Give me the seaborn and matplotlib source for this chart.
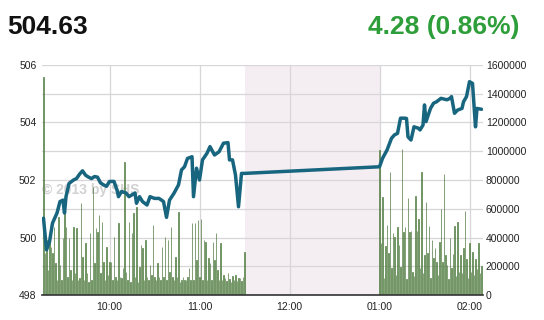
import matplotlib
matplotlib.use("Agg")
import matplotlib.pyplot as plt
import seaborn as sns
import numpy as np
import pandas as pd

# ---------------- data ----------------
price_times = ["09:16", "09:18", "09:20", "09:22", "09:25", "09:27", "09:29", "09:30", "09:31", "09:33",
               "09:36", "09:38", "09:40", "09:42", "09:44", "09:46", "09:48", "09:50", "09:52", "09:54",
               "09:56", "09:58", "10:00", "10:03", "10:05", "10:06", "10:08", "10:11", "10:13", "10:17",
               "10:18", "10:20", "10:22", "10:25", "10:27", "10:30", "10:33", "10:36", "10:38", "10:40",
               "10:43", "10:46", "10:48", "10:50", "10:52", "10:55", "10:56", "10:58", "11:00", "11:02",
               "11:05", "11:07", "11:10", "11:13", "11:16", "11:19", "11:20", "11:22", "11:24", "11:26",
               "11:28", "11:30",
               "13:00", "13:02", "13:05", "13:08", "13:10", "13:12", "13:14", "13:17", "13:18", "13:19",
               "13:21", "13:23", "13:26", "13:27", "13:29", "13:30", "13:31", "13:34", "13:36", "13:38",
               "13:41", "13:45", "13:47", "13:48", "13:50", "13:52", "13:55", "13:56", "13:58", "14:00",
               "14:02", "14:04", "14:05", "14:08"]
price_values = [500.67, 499.57, 499.85, 500.50, 500.85, 501.25, 501.30, 500.85, 501.42, 501.88,
                502.00, 502.05, 502.20, 502.32, 502.17, 502.10, 502.05, 502.12, 502.10, 501.90,
                501.83, 501.78, 501.95, 501.95, 501.65, 501.42, 501.60, 501.55, 501.42, 501.55,
                501.19, 501.42, 501.25, 501.13, 501.42, 501.36, 501.36, 501.25, 500.70, 501.30,
                501.54, 501.83, 502.35, 502.46, 502.75, 502.81, 501.42, 502.41, 502.00, 502.70,
                502.93, 503.16, 502.87, 502.98, 503.28, 503.30, 502.70, 502.70, 502.17, 501.07,
                502.23, 502.23,
                502.46, 502.75, 503.04, 503.45, 503.57, 503.62, 504.15, 504.15, 504.14, 503.50,
                503.39, 503.85, 503.80, 503.74, 503.91, 504.61, 504.03, 504.49, 504.67, 504.72,
                504.84, 504.79, 504.84, 504.90, 504.32, 504.43, 504.49, 504.72, 504.90, 505.42,
                505.36, 503.85, 504.49, 504.46]

# volume per minute (thousands), morning session starting 09:16, afternoon starting 13:00
vol_am_start = "09:16"
vol_am = [1519, 290, 383, 174, 429, 336, 290, 475, 220, 104, 545, 209, 104, 394, 614, 475, 127, 394,
          174, 104, 475, 151, 464, 104, 116, 638, 267, 104, 360, 151, 93, 429, 104, 754, 220, 464,
          441, 557, 151, 510, 232, 104, 336, 139, 232, 232, 104, 406, 127, 104, 499, 127, 116, 186,
          927, 162, 104, 510, 93, 429, 568, 127, 614, 93, 197, 348, 325, 104, 383, 127, 104, 209,
          139, 487, 127, 104, 220, 127, 104, 336, 127, 406, 104, 383, 162, 475, 127, 104, 267, 127,
          580, 93, 104, 127, 104, 104, 127, 186, 104, 503, 104, 499, 244, 522, 127, 526, 104, 383,
          371, 104, 255, 220, 104, 371, 244, 429, 174, 104, 360, 104, 139, 118, 96, 150, 110, 92,
          130, 105, 140, 98, 120, 115, 100, 125, 300]
vol_pm_start = "13:00"
vol_pm = [1009, 360, 684, 120, 341, 487, 290, 858, 186, 429, 406, 140, 475, 348, 195, 1013, 440,
          471, 110, 672, 440, 445, 162, 130, 689, 445, 529, 186, 858, 150, 278, 649, 290, 480, 120,
          383, 255, 329, 232, 140, 371, 598, 232, 842, 278, 209, 110, 394, 190, 286, 480, 130, 506,
          162, 278, 150, 330, 587, 250, 120, 364, 160, 300, 140, 250, 180, 364, 150, 200]

ytick_price = [498, 500, 502, 504, 506]
xtick_times = ["10:00", "11:00", "12:00", "13:00", "14:00"]
xtick_labels = ["10:00", "11:00", "12:00", "01:00", "02:00"]
header_value = "504.63"
header_change = "4.28 (0.86%)"
watermark = "\u00a9 2013 by SHS"
break_span = ("11:30", "13:00")
x_range = ("09:15", "14:09")


def to_min(s):
    h, m = s.split(":")
    return int(h) * 60 + int(m)


price_df = pd.DataFrame({"t": [to_min(t) for t in price_times], "price": price_values})
am0, pm0 = to_min(vol_am_start), to_min(vol_pm_start)
vol_df = pd.DataFrame({
    "t": [am0 + i for i in range(len(vol_am))] + [pm0 + i for i in range(len(vol_pm))],
    "vol": [v * 1000 for v in vol_am + vol_pm],
})

# ---------------- drawing ----------------
sns.set_style("white")
plt.rcParams["font.family"] = ["Liberation Sans", "DejaVu Sans"]

fig = plt.figure(figsize=(5.44, 3.2), dpi=100)
W, H = 544, 320
ax = fig.add_axes([42 / W, 25 / H, 441 / W, 230 / H])

# lunch break shading
ax.axvspan(to_min(break_span[0]), to_min(break_span[1]), color="#f4eef2", zorder=0, lw=0)

# volume bars
sns.histplot(data=vol_df, x="t", weights="vol", discrete=True, shrink=0.55, ax=ax,
             facecolor="#a5c095", edgecolor="#3e6c2d", linewidth=0.45, alpha=1, zorder=2)

ax2 = ax.twinx()

ax.set_xlim(to_min(x_range[0]), to_min(x_range[1]))
ax.set_ylim(0, 1600000)
ax.set_yticks(np.arange(0, 1600001, 200000))
ax.set_yticklabels([f"{int(v)}" for v in np.arange(0, 1600001, 200000)])
ax.set_xticks([to_min(t) for t in xtick_times])
ax.set_xticklabels(xtick_labels)
ax.set_xlabel("")
ax.set_ylabel("")
ax.grid(True, color="#d9d6d9", lw=0.9, zorder=1)
ax.set_axisbelow(True)
for s in ["left", "right", "top"]:
    ax.spines[s].set_visible(False)
ax.spines["bottom"].set_color("#333333")
ax.spines["bottom"].set_linewidth(1.2)
ax.tick_params(axis="both", length=0, labelsize=7.5, colors="#222222", pad=3)
ax.tick_params(axis="x", pad=5)
ax.yaxis.tick_right()
ax.tick_params(axis="y", length=0, pad=2)

ax.text(0.0, 0.457, watermark, transform=ax.transAxes, fontsize=10, fontweight="bold",
        color="#d2d2d2", va="center", ha="left", zorder=1.5)

# price line
sns.lineplot(data=price_df, x="t", y="price", ax=ax2, color="#17657f", lw=2.5,
             solid_joinstyle="round", zorder=5)
ax2.set_ylim(498, 506)
ax2.set_yticks(ytick_price)
ax2.yaxis.tick_left()
ax2.set_xlim(to_min(x_range[0]), to_min(x_range[1]))
ax2.set_ylabel("")
ax2.set_xlabel("")
for s in ["left", "right", "top", "bottom"]:
    ax2.spines[s].set_visible(False)
ax2.tick_params(axis="y", length=0, labelsize=7.5, colors="#222222", pad=4)

# header
fig.text(7 / W, 1 - 27 / H, header_value, fontsize=19, fontweight="bold", color="#111111",
         ha="left", va="center")
fig.text(519 / W, 1 - 27 / H, header_change, fontsize=19, fontweight="bold", color="#2e9e3a",
         ha="right", va="center")

fig.savefig("out.png", dpi=100)
